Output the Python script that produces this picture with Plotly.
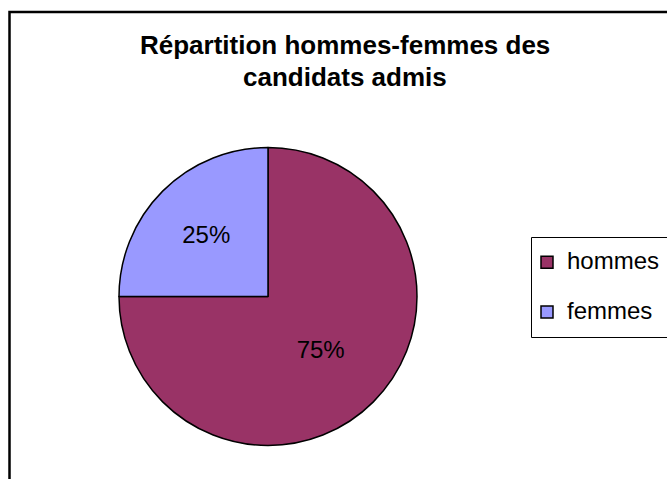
import plotly.graph_objects as go

categories = ["hommes", "femmes"]
values = [75, 25]
colors = ["#993366", "#9999FF"]
title_lines = ["Répartition hommes-femmes des", "candidats admis"]

W, H = 667, 479
FONT = "Liberation Sans, Arial, sans-serif"

fig = go.Figure()
fig.add_trace(go.Pie(
    labels=["<span style='font-size:24px'>" + c + "</span><br> " for c in categories],
    values=values,
    sort=False,
    direction="clockwise",
    rotation=0,
    marker=dict(colors=colors, line=dict(color="black", width=1.5)),
    textinfo="percent",
    texttemplate="%{percent:.0%}",
    textposition="inside",
    insidetextorientation="horizontal",
    textfont=dict(family=FONT, size=24, color="black"),
    domain=dict(x=[119 / W, 417 / W], y=[(H - 445.5) / H, (H - 147.5) / H]),
    showlegend=True,
    hoverinfo="percent",
))

annotations = []
for t, yy in zip(title_lines, [45, 77]):
    annotations.append(dict(
        text="<b>" + t + "</b>", x=345 / W, y=(H - yy) / H, xref="paper", yref="paper",
        xanchor="center", yanchor="middle", showarrow=False,
        font=dict(family=FONT, size=26, color="black"),
    ))


def px(x):
    return x / W


def py(y):
    return (H - y) / H


outer = f"M{px(9.5)},{py(H)} L{px(9.5)},{py(12)} L{px(W)},{py(12)}"
legbox = (f"M{px(W)},{py(237.5)} L{px(531.5)},{py(237.5)} "
          f"L{px(531.5)},{py(337.5)} L{px(W)},{py(337.5)}")

fig.update_layout(
    width=W, height=H, autosize=False,
    margin=dict(l=0, r=0, t=0, b=0, autoexpand=False),
    paper_bgcolor="white",
    plot_bgcolor="white",
    showlegend=True,
    legend=dict(
        x=527 / W, y=(H - 244) / H, xanchor="left", yanchor="top",
        font=dict(family=FONT, size=18, color="black"),
        bgcolor="rgba(0,0,0,0)", borderwidth=0, valign="top",
        itemwidth=30,
    ),
    annotations=annotations,
    shapes=[
        dict(type="path", xref="paper", yref="paper", path=outer,
             line=dict(color="black", width=2.5)),
        dict(type="path", xref="paper", yref="paper", path=legbox,
             line=dict(color="black", width=1)),
    ],
)

fig.write_html(
    "out.html",
    config={"displayModeBar": False, "responsive": False},
    default_width="667px",
    default_height="479px",
    post_script=("document.body.style.margin='0';"
                 "document.body.style.overflow='hidden';"
                 "document.documentElement.style.overflow='hidden';"),
)
